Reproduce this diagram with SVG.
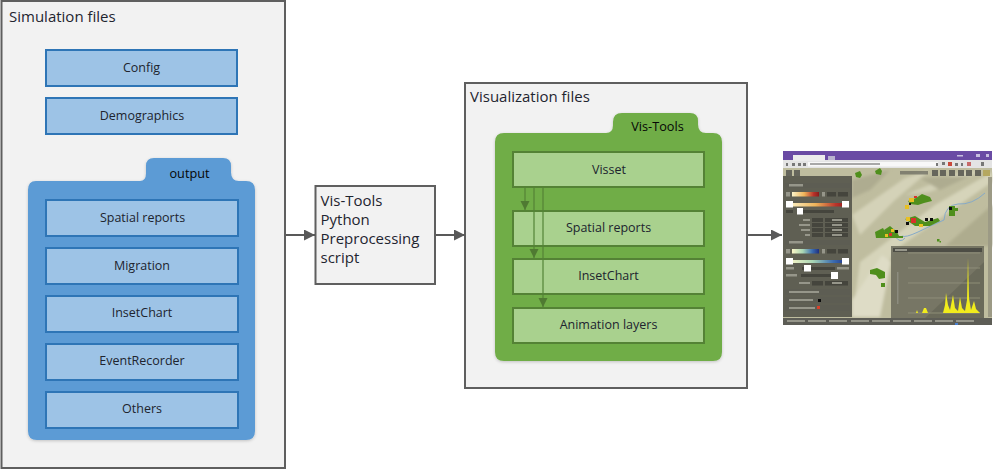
<svg xmlns="http://www.w3.org/2000/svg" width="993" height="470" viewBox="0 0 993 470">
<style>
.panel{fill:#f2f2f2;stroke:#5f5f5f;stroke-width:2}
.title{font:15px "Open Sans","Noto Sans",sans-serif;fill:#1f2530}
.lbl{font:12.5px "Open Sans","Noto Sans",sans-serif;fill:#20242e;text-anchor:middle}
.hdr{font:12.7px "Open Sans","Noto Sans",sans-serif;fill:#050505;text-anchor:middle}
.bb{fill:#9dc3e6;stroke:#2e75b6;stroke-width:2}
.gb{fill:#a9d18e;stroke:#548235;stroke-width:2}
.conn{fill:none;stroke:#595959;stroke-width:2}
.gconn{fill:none;stroke:#548235;stroke-width:2;stroke-opacity:.6}
.dk{fill:#45453d}
.wh{fill:#fff}
.row{fill:#5d5d53}
.tx{fill:#96968a}
.grid{stroke:#94947f;stroke-width:.8;fill:none}
</style>
<defs>
<marker id="ah" markerUnits="userSpaceOnUse" markerWidth="12" markerHeight="12" refX="11" refY="5.500" orient="auto"><path d="M0 0L11 5.500L0 11z" fill="#595959"/></marker>
<marker id="gh" markerUnits="userSpaceOnUse" markerWidth="10" markerHeight="10" refX="9" refY="4.500" orient="auto"><path d="M0 0L9 4.500L0 9z" fill="#4f7a32"/></marker>
<filter id="sh" x="-5%" y="-5%" width="110%" height="110%"><feDropShadow dx="0" dy="1" stdDeviation="1.500" flood-color="#000" flood-opacity=".2"/></filter>
<filter id="bl" x="-2%" y="-2%" width="104%" height="104%"><feGaussianBlur stdDeviation=".75"/></filter>
<filter id="bl2" x="-20%" y="-20%" width="140%" height="140%"><feGaussianBlur stdDeviation="1.800"/></filter>
<linearGradient id="g1"><stop offset="0" stop-color="#fbf3c8"/><stop offset=".45" stop-color="#eeb45a"/><stop offset=".8" stop-color="#b8322a"/><stop offset="1" stop-color="#8a1c1c"/></linearGradient>
<linearGradient id="g2"><stop offset="0" stop-color="#fbf6c8"/><stop offset=".4" stop-color="#a9d6b4"/><stop offset=".75" stop-color="#3b6cb0"/><stop offset="1" stop-color="#1e2f80"/></linearGradient>
</defs>
<g id="simulation-files">
<rect class="panel" x="1.500" y="1" width="283.500" height="467"/>
<text class="title" x="9" y="22">Simulation files</text>
</g>
<g id="config"><rect class="bb" x="46" y="50" width="191" height="36"/><text class="lbl" x="141.500" y="72">Config</text></g>
<g id="demographics"><rect class="bb" x="46" y="98" width="191" height="36"/><text class="lbl" x="142" y="120">Demographics</text></g>
<g id="output">
<path filter="url(#sh)" d="M36 181H140Q146 181 146 173V166Q146 158 154 158H223Q231 158 231 166V172Q231 181 239 181H246Q255 181 255 190V431Q255 440 246 440H37Q28 440 28 431V190Q28 181 36 181Z" fill="#5b9bd5"/>
<text class="hdr" x="189.500" y="178">output</text>
</g>
<g id="spatial-reports-sim"><rect class="bb" x="46" y="200" width="192" height="36"/><text class="lbl" x="142.500" y="222">Spatial reports</text></g>
<g id="migration"><rect class="bb" x="46" y="248" width="192" height="36"/><text class="lbl" x="142" y="270">Migration</text></g>
<g id="insetchart-sim"><rect class="bb" x="46" y="296" width="192" height="36"/><text class="lbl" x="142" y="317">InsetChart</text></g>
<g id="eventrecorder"><rect class="bb" x="46" y="344" width="192" height="36"/><text class="lbl" x="142" y="365">EventRecorder</text></g>
<g id="others"><rect class="bb" x="46" y="392" width="192" height="36"/><text class="lbl" x="142" y="413">Others</text></g>
<g id="script">
<rect class="panel" x="315.500" y="186" width="119.500" height="98"/>
<text class="title"><tspan x="320.500" y="206">Vis-Tools</tspan><tspan x="320.500" y="225">Python</tspan><tspan x="320.500" y="244">Preprocessing</tspan><tspan x="320.500" y="263">script</tspan></text>
</g>
<g id="visualization-files">
<rect class="panel" x="465" y="83" width="282" height="305"/>
<text class="title" x="470" y="102">Visualization files</text>
</g>
<g id="vis-tools">
<path filter="url(#sh)" d="M504 133H606Q613 133 613 125V122Q613 113 622 113H690Q698 113 698 121V124Q698 133 706 133H713Q722 133 722 142V352Q722 361 713 361H504Q495 361 495 352V142Q495 133 504 133Z" fill="#70ad47"/>
<text class="hdr" x="657.500" y="131">Vis-Tools</text>
</g>
<g id="spatial-reports-vis"><rect class="gb" x="513" y="211" width="191" height="35"/><text class="lbl" x="608.500" y="232">Spatial reports</text></g>
<g id="insetchart-vis"><rect class="gb" x="513" y="259" width="191" height="35"/><text class="lbl" x="608.500" y="280">InsetChart</text></g>
<g id="animation-layers"><rect class="gb" x="513" y="308" width="191" height="35"/><text class="lbl" x="608.500" y="329">Animation layers</text></g>
<g id="visset"><rect class="gb" x="513" y="152" width="191" height="35"/><text class="lbl" x="609" y="174">Visset</text></g>
<g id="connectors">
<path class="conn" d="M286 235H315" marker-end="url(#ah)"/>
<path class="conn" d="M436 235H465" marker-end="url(#ah)"/>
<path class="conn" d="M748 235H782" marker-end="url(#ah)"/>
<path class="gconn" d="M525 188V210" marker-end="url(#gh)"/>
<path class="gconn" d="M534 188V258" marker-end="url(#gh)"/>
<path class="gconn" d="M543 188V307" marker-end="url(#gh)"/>
</g>
<g id="screenshot">
<g filter="url(#bl)">
<rect x="783" y="151" width="209" height="174" fill="#bfbd9f"/>
<g filter="url(#bl2)">
<path d="M852 215L905 178L930 170L895 200L860 235Z" fill="#d4d2b8"/>
<path d="M860 262L935 205L992 172V182L945 215L895 250L870 300L856 317H852Z" fill="#d6d4ba"/>
<path d="M905 195L960 172L985 170L930 192Z" fill="#d2d0b6"/>
<path d="M950 242L992 205V246H945Z" fill="#aeac8e"/>
<path d="M852 300L882 255L891 262L880 317H852Z" fill="#dedcc6"/>
<path d="M852 180L890 170L870 190L852 198Z" fill="#aeac90"/>
<path d="M920 178L970 176L940 190Z" fill="#aeac90"/>
</g>
<path d="M985 193Q972 205 958 204Q945 205 944 220Q930 226 918 232Q905 238 902 236" fill="none" stroke="#86aac8" stroke-width="1"/>
<path d="M895 236Q900 244 905 238" fill="none" stroke="#86aac8" stroke-width="1"/>
<rect x="783" y="151" width="209" height="9" fill="#6a4ba4"/>
<rect x="828" y="156" width="7" height="5" fill="#b9b3cf"/>
<rect x="783" y="160" width="209" height="8" fill="#e4e4e4"/>
<rect x="793" y="155" width="32" height="6" fill="#ececec"/>
<rect x="808" y="162" width="130" height="4.500" fill="#f8f8f8"/>
<rect x="810" y="163" width="70" height="2" fill="#a8a8a8"/>
<g fill="#777"><rect x="786" y="163" width="2" height="3"/><rect x="792" y="163" width="3" height="3"/><rect x="798" y="163" width="3" height="3"/><rect x="803" y="163" width="3" height="3"/><rect x="936" y="163" width="2" height="3"/><rect x="942" y="162" width="3" height="3"/><rect x="955" y="163" width="3" height="3"/><rect x="961" y="163" width="2" height="3"/><rect x="981" y="162" width="3" height="4"/></g>
<rect x="948" y="162" width="4" height="4" fill="#c84a3a"/><rect x="967" y="162" width="4" height="4" fill="#c86a6a"/>
<g fill="#c8bfe0"><rect x="957" y="155" width="6" height="1.500"/><rect x="976" y="154" width="4" height="3"/><rect x="986" y="154" width="3" height="3"/></g>
<g fill="#66665c"><rect x="786" y="170" width="6" height="6"/><rect x="794" y="170" width="6" height="6"/><rect x="932" y="170" width="6" height="6"/><rect x="940" y="170" width="6" height="6"/><rect x="949" y="170" width="6" height="6"/><rect x="958" y="170" width="6" height="6"/><rect x="966" y="170" width="6" height="6"/><rect x="975" y="170" width="6" height="6"/><rect x="900" y="171" width="28" height="3.500" opacity=".7"/></g>
<rect x="983" y="170" width="7" height="6" fill="#b5a860"/>
<rect x="988" y="177" width="4" height="140" fill="#9c9a85"/>
<g fill="#4f8f1f">
<path d="M855 173L860 171L862 175L860 178L856 177Z"/><path d="M875 171L880 168L882 171L881 175L876 174Z"/>
<path d="M908 201L916 198L922 194L930 197L932 201L924 203L918 205L910 204Z"/>
<rect x="949" y="206" width="6" height="10"/><rect x="955" y="208" width="3" height="3"/>
<path d="M905 219L915 216L925 222L938 218L940 221L930 226L915 226Z"/>
<path d="M884 230L890 226L897 232L900 238H886Z"/><path d="M875 232L883 228L888 238H876Z"/>
<path d="M870 270L877 268L885 272L885 278L879 279L876 275L870 274Z"/><rect x="881" y="283" width="4" height="4"/>
<rect x="937" y="239" width="2.500" height="2.500"/><rect x="939.500" y="241" width="1.500" height="1.500"/><rect x="896" y="236" width="7" height="2"/>
</g>
<g fill="#d8302a"><rect x="914" y="196" width="3" height="2"/><rect x="911" y="218" width="5" height="5"/><rect x="889" y="233" width="3" height="3"/></g>
<g fill="#e8c020"><rect x="909" y="198" width="5" height="4"/><rect x="905" y="205" width="4" height="4"/><rect x="906" y="217" width="4" height="4"/><rect x="919" y="224" width="4" height="3"/><rect x="891" y="229" width="3" height="3"/><rect x="885" y="234" width="3" height="3"/></g>
<g fill="#0c0c0c"><rect x="909" y="203" width="2" height="2"/><rect x="906" y="222" width="3" height="3"/><rect x="925" y="218" width="3" height="3"/><rect x="930" y="218" width="3" height="3"/><rect x="949" y="207" width="3" height="3"/><rect x="895" y="230" width="3" height="3"/></g>
<rect x="783" y="176" width="69" height="141" fill="#56564c" fill-opacity=".93"/>
<rect x="785" y="183" width="65" height="5" class="row"/><rect x="789" y="184" width="14" height="2.500" class="tx"/>
<rect x="792" y="192" width="27" height="4.500" fill="url(#g1)"/>
<rect x="786" y="192" width="4" height="4.500" class="tx"/><rect x="822" y="192" width="3" height="4.500" class="tx"/>
<rect x="827" y="192" width="9" height="4.500" class="dk"/><rect x="838" y="192" width="10" height="4.500" class="dk"/>
<rect x="789" y="203" width="59" height="3.500" fill="url(#g1)"/>
<rect x="786" y="201" width="7" height="6.500" class="wh"/><rect x="842" y="201" width="7" height="6.500" class="wh"/>
<rect x="786" y="210" width="7" height="3" class="dk"/><rect x="799" y="210" width="35" height="3" class="dk"/><rect x="797" y="208" width="6" height="6.500" class="wh"/>
<g class="dk"><rect x="812" y="218" width="11" height="4"/><rect x="825" y="218" width="23" height="4"/><rect x="812" y="223" width="11" height="4"/><rect x="825" y="223" width="23" height="4"/><rect x="812" y="228" width="11" height="4"/><rect x="825" y="228" width="23" height="4"/><rect x="812" y="233" width="11" height="4"/><rect x="825" y="233" width="23" height="4"/></g>
<g class="tx"><rect x="803" y="219" width="7" height="2"/><rect x="799" y="224" width="11" height="2"/><rect x="801" y="229" width="9" height="2"/><rect x="805" y="234" width="5" height="2"/><rect x="832" y="219" width="10" height="2"/><rect x="832" y="224" width="10" height="2"/><rect x="832" y="229" width="10" height="2"/><rect x="832" y="234" width="10" height="2"/></g>
<rect x="785" y="240" width="65" height="5" class="row"/><rect x="789" y="241" width="14" height="2.500" class="tx"/>
<rect x="792" y="249" width="27" height="4.500" fill="url(#g2)"/>
<rect x="786" y="249" width="4" height="4.500" class="tx"/><rect x="822" y="249" width="3" height="4.500" class="tx"/>
<rect x="827" y="249" width="9" height="4.500" class="dk"/><rect x="838" y="249" width="10" height="4.500" class="dk"/>
<rect x="789" y="260" width="59" height="3" fill="url(#g2)"/>
<rect x="786" y="258" width="7" height="6.500" class="wh"/><rect x="842" y="258" width="7" height="6.500" class="wh"/>
<rect x="786" y="267" width="8" height="2.500" class="tx"/><rect x="802" y="267" width="33" height="3" class="dk"/><rect x="804" y="265" width="7" height="6.500" class="wh"/><rect x="837" y="267" width="12" height="2.500" class="tx"/>
<rect x="786" y="274" width="11" height="2.500" class="tx"/><rect x="801" y="274" width="34" height="3" class="dk"/><rect x="831" y="272" width="7" height="7" class="wh"/>
<rect x="799" y="282" width="11" height="2" class="tx"/><rect x="812" y="281" width="11" height="4.500" class="dk"/><rect x="825" y="281" width="23" height="4.500" class="dk"/><rect x="832" y="282" width="10" height="2" class="tx"/>
<g class="row"><rect x="785" y="289" width="65" height="6"/><rect x="785" y="297" width="65" height="6"/><rect x="785" y="305" width="65" height="6"/></g>
<g class="tx"><rect x="789" y="291" width="30" height="2"/><rect x="789" y="299" width="24" height="2"/><rect x="789" y="307" width="26" height="2"/></g>
<rect x="818" y="299" width="3" height="3" fill="#111"/><rect x="817" y="306" width="3" height="3" fill="#d8402a"/>
<rect x="891" y="246" width="93" height="72" fill="#6a6a5a" fill-opacity=".85"/>
<path d="M925 318L984 262V318Z" fill="#5f5f50" opacity=".5"/>
<rect x="893" y="248" width="89" height="4" fill="#4e4e45"/><rect x="895" y="249" width="12" height="2" class="tx"/>
<path class="grid" d="M908 253H980M908 268H980M908 283H980M908 298H980M908 313H980"/>
<rect x="897" y="272" width="1.500" height="32" class="tx" opacity=".7"/>
<path d="M908 313L916 313L917 310L918 313L922 313L924 308L926 308L928 313L943 313L945 305L946 293L948 305L950 310L953 295L955 308L958 311L960 297L962 308L965 311L967 300L968 258L969 298L971 310L974 301L976 309L980 313Z" fill="#f1ec1e"/>
<rect x="783" y="318" width="209" height="7" fill="#5d5d56"/>
<g class="tx"><rect x="787" y="320" width="18" height="2"/><rect x="808" y="320" width="18" height="2"/><rect x="829" y="320" width="18" height="2"/><rect x="851" y="320" width="18" height="2"/><rect x="872" y="320" width="18" height="2"/><rect x="893" y="320" width="18" height="2"/><rect x="914" y="320" width="18" height="2"/><rect x="935" y="320" width="18" height="2"/><rect x="956" y="320" width="18" height="2"/></g>
<rect x="955" y="323" width="3" height="2" fill="#4a80d0"/>
</g>
</g>
</svg>
